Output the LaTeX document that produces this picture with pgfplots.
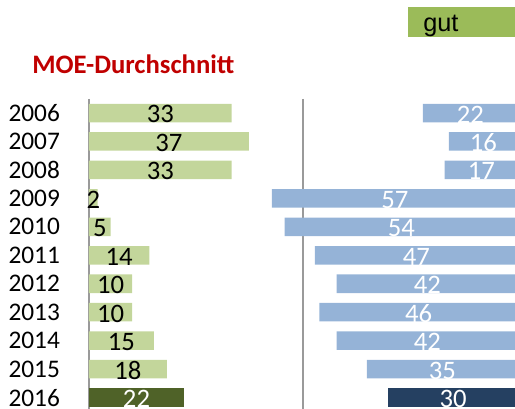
\documentclass[border=0pt]{standalone}
\usepackage{pgfplots}
\usepackage{pgfplotstable}
\pgfplotsset{compat=1.18}
\usepackage{fontspec}
\setmainfont{Carlito}
\newfontfamily\arialfont{Liberation Sans}

\definecolor{gutlight}{HTML}{C3D69B}
\definecolor{gutdark}{HTML}{4F6228}
\definecolor{badlight}{HTML}{95B3D7}
\definecolor{baddark}{HTML}{254061}
\definecolor{legendgreen}{HTML}{9BBB59}
\definecolor{titlered}{HTML}{C00000}
\definecolor{axisgray}{HTML}{9A9A9A}

% row 0 = 2006 ... row 9 = 2015
\pgfplotstableread{
row gut bad
0 33 22
1 37 16
2 33 17
3 2 57
4 5 54
5 14 47
6 10 42
7 10 46
8 15 42
9 18 35
}\pastdata
% 2016, highlighted
\pgfplotstableread{
row gut bad
10 22 30
}\currentdata

\begin{document}
\begin{tikzpicture}
\useasboundingbox (0,0) rectangle (386.25pt,306.75pt);
\clip (0,0) rectangle (386.25pt,306.75pt);

\pgfplotsset{
  panel/.style={
    scale only axis,
    anchor=south west,
    height=234.75pt,
    ymin=-0.5, ymax=10.5,
    y dir=reverse,
    xmin=0,
    clip=false,
    bar width=13.9pt,
    /pgf/number format/assume math mode=true,
  },
  bars/.style={xbar, bar shift=0pt, draw=none, fill=#1},
  barlabel/.style={
    draw=none, mark=none, forget plot,
    nodes near coords={\pgfplotspointmeta},
    point meta=explicit symbolic,
    nodes near coords align=center,
    every node near coord/.append style={
      font=\fontsize{20}{24}\selectfont, anchor=center,
      inner sep=0pt, yshift=-1pt, text=#1},
  },
}

% left panel: gut
\begin{axis}[
  panel,
  at={(66.75pt,-2.1pt)},
  width=160.5pt,
  xmax=49.54,
  axis x line=none,
  axis y line=left,
  y axis line style={-, draw=axisgray, line width=1pt},
  ytick={0,...,10},
  yticklabels={2006,2007,2008,2009,2010,2011,2012,2013,2014,2015,2016},
  ytick style={draw=none},
  yticklabel style={font=\fontsize{19}{23}\selectfont, anchor=east,
    inner sep=0pt, xshift=-19.5pt},
]
  \addplot[bars=gutlight] table[x=gut, y=row] {\pastdata};
  \addplot[bars=gutdark] table[x=gut, y=row] {\currentdata};
  \addplot[barlabel=black] table[x expr=\thisrow{gut}/2, y=row, meta=gut] {\pastdata};
  \addplot[barlabel=white] table[x expr=\thisrow{gut}/2, y=row, meta=gut] {\currentdata};
\end{axis}

% right panel: bars run leftwards from the (cropped) right edge
\begin{axis}[
  panel,
  at={(227.25pt,-2.1pt)},
  width=161.25pt,
  xmax=49.77,
  x dir=reverse,
  hide axis,
]
  \draw[axisgray, line width=1pt] (axis cs:49.77,-0.5) -- (axis cs:49.77,10.5);
  \addplot[bars=badlight] table[x=bad, y=row] {\pastdata};
  \addplot[bars=baddark] table[x=bad, y=row] {\currentdata};
  \addplot[barlabel=white] table[x expr=\thisrow{bad}/2, y=row, meta=bad] {\pastdata};
  \addplot[barlabel=white] table[x expr=\thisrow{bad}/2, y=row, meta=bad] {\currentdata};
\end{axis}

\node[anchor=base west, inner sep=0pt, text=titlered,
  font=\fontsize{20}{24}\selectfont\bfseries] at (24pt,251.25pt) {MOE-Durchschnitt};

\fill[legendgreen] (306pt,279pt) rectangle (390pt,301.5pt);
\node[anchor=base west, inner sep=0pt,
  font=\arialfont\fontsize{19}{23}\selectfont] at (317.25pt,282.75pt) {gut};
\end{tikzpicture}
\end{document}
